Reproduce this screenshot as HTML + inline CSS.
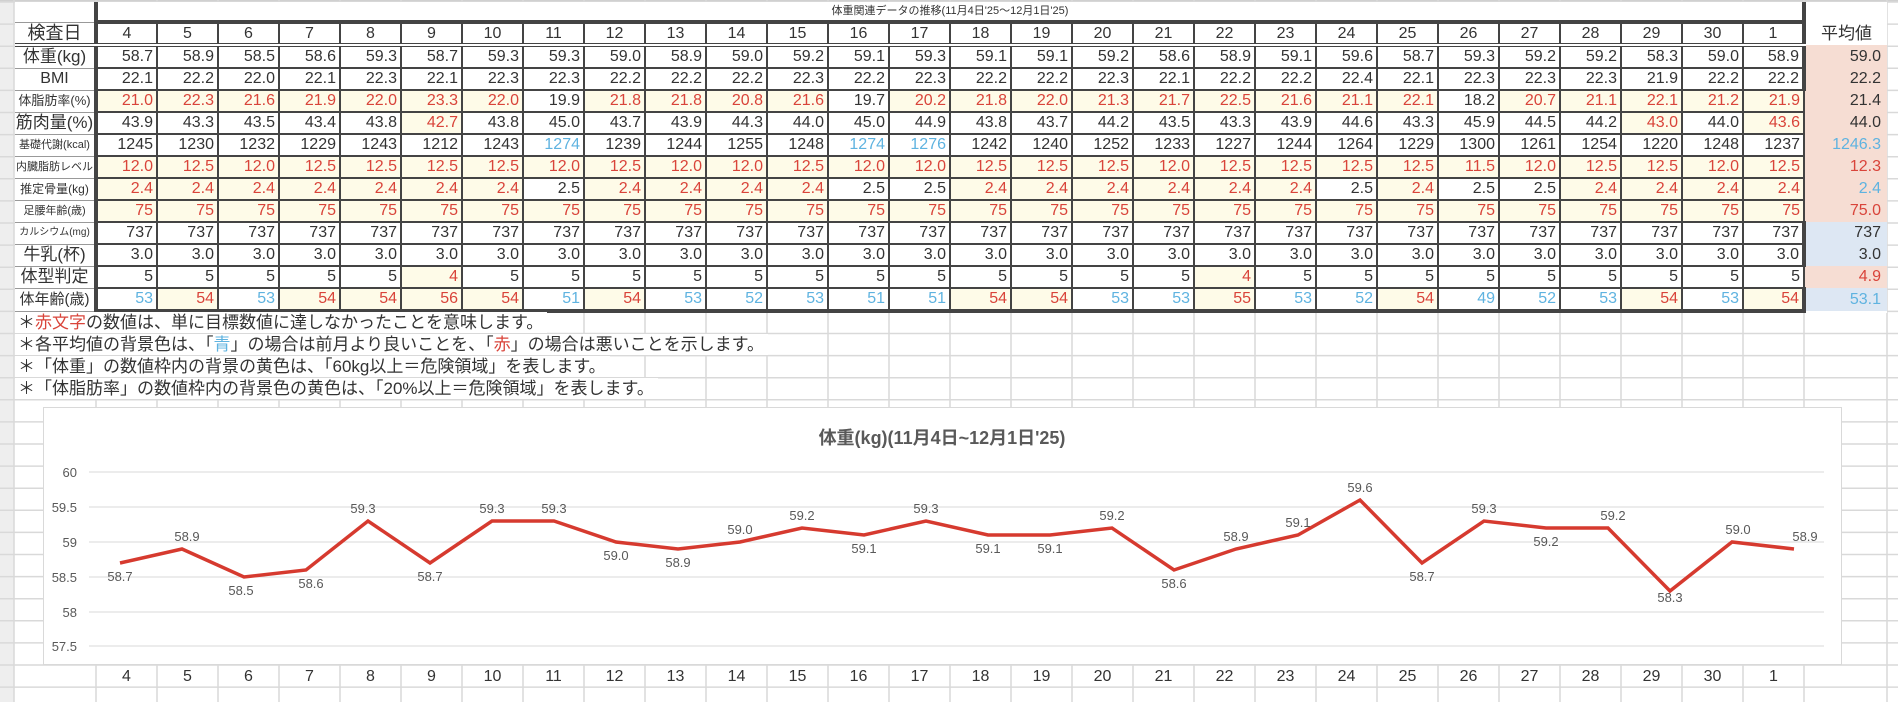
<!DOCTYPE html>
<html><head><meta charset="utf-8"><style>
body{margin:0;width:1898px;height:702px;overflow:hidden;background:#fff;position:relative;font-family:"Liberation Sans","Noto Sans CJK JP",sans-serif;color:#333}
#bg{position:absolute;left:0;top:0}
table{position:absolute;left:15px;top:2px;border-collapse:collapse;table-layout:fixed;background:#fff}
td{padding:0 3px 0 0;height:20px;font-size:16px;text-align:right;border:2px solid #444;white-space:nowrap;overflow:hidden;line-height:18px}
td.l{text-align:center;border:1px solid #999;border-left:none;padding:0;font-size:17px}
tr.h td{text-align:center;padding:0;border-bottom:4px double #444;height:19px;font-size:16px}
tr.t td{height:18px;border:none}
td.r{color:#d9443a;background:#fefbe8}
td.b{color:#5fb3e0}
td.a{border:none;border-left:2px solid #444;background:#f6ddd3;padding-right:6px}
td.ab{border:none;border-left:2px solid #444;background:#dde7f3;padding-right:6px}
.rc{color:#d9443a}.bc{color:#5fb3e0}
.fn{position:absolute;left:15px;font-size:17px;background:#fff;padding:0 4px 0 3px;height:21px;line-height:21px;color:#333}
#chart{position:absolute;left:0;top:0}
.xl{position:absolute;top:667px;width:61px;text-align:center;font-size:16px;line-height:20px;color:#333}
</style></head><body>
<svg id="bg" width="1898" height="702">
<rect x="0" y="0" width="14" height="702" fill="#eeeeee"/>
<rect x="0" y="0" width="1898" height="2" fill="#d0d0d0"/>
<g stroke="#d9d9d9" stroke-width="1.5">
<line x1="0" x2="1898" y1="2" y2="2"/><line x1="0" x2="1898" y1="24.1" y2="24.1"/><line x1="0" x2="1898" y1="46.2" y2="46.2"/><line x1="0" x2="1898" y1="68.3" y2="68.3"/><line x1="0" x2="1898" y1="90.4" y2="90.4"/><line x1="0" x2="1898" y1="112.5" y2="112.5"/><line x1="0" x2="1898" y1="134.6" y2="134.6"/><line x1="0" x2="1898" y1="156.7" y2="156.7"/><line x1="0" x2="1898" y1="178.8" y2="178.8"/><line x1="0" x2="1898" y1="200.9" y2="200.9"/><line x1="0" x2="1898" y1="223" y2="223"/><line x1="0" x2="1898" y1="245.1" y2="245.1"/><line x1="0" x2="1898" y1="267.2" y2="267.2"/><line x1="0" x2="1898" y1="289.3" y2="289.3"/><line x1="0" x2="1898" y1="311.4" y2="311.4"/><line x1="0" x2="1898" y1="333.5" y2="333.5"/><line x1="0" x2="1898" y1="355.6" y2="355.6"/><line x1="0" x2="1898" y1="377.7" y2="377.7"/><line x1="0" x2="1898" y1="399.8" y2="399.8"/><line x1="0" x2="1898" y1="421.9" y2="421.9"/><line x1="0" x2="1898" y1="444" y2="444"/><line x1="0" x2="1898" y1="466.1" y2="466.1"/><line x1="0" x2="1898" y1="488.2" y2="488.2"/><line x1="0" x2="1898" y1="510.3" y2="510.3"/><line x1="0" x2="1898" y1="532.4" y2="532.4"/><line x1="0" x2="1898" y1="554.5" y2="554.5"/><line x1="0" x2="1898" y1="576.6" y2="576.6"/><line x1="0" x2="1898" y1="598.7" y2="598.7"/><line x1="0" x2="1898" y1="620.8" y2="620.8"/><line x1="0" x2="1898" y1="642.9" y2="642.9"/><line x1="0" x2="1898" y1="665" y2="665"/><line x1="0" x2="1898" y1="687.1" y2="687.1"/>
<line x1="14" x2="14" y1="0" y2="702"/><line x1="96" x2="96" y1="0" y2="702"/><line x1="157" x2="157" y1="0" y2="702"/><line x1="218" x2="218" y1="0" y2="702"/><line x1="279" x2="279" y1="0" y2="702"/><line x1="340" x2="340" y1="0" y2="702"/><line x1="401" x2="401" y1="0" y2="702"/><line x1="462" x2="462" y1="0" y2="702"/><line x1="523" x2="523" y1="0" y2="702"/><line x1="584" x2="584" y1="0" y2="702"/><line x1="645" x2="645" y1="0" y2="702"/><line x1="706" x2="706" y1="0" y2="702"/><line x1="767" x2="767" y1="0" y2="702"/><line x1="828" x2="828" y1="0" y2="702"/><line x1="889" x2="889" y1="0" y2="702"/><line x1="950" x2="950" y1="0" y2="702"/><line x1="1011" x2="1011" y1="0" y2="702"/><line x1="1072" x2="1072" y1="0" y2="702"/><line x1="1133" x2="1133" y1="0" y2="702"/><line x1="1194" x2="1194" y1="0" y2="702"/><line x1="1255" x2="1255" y1="0" y2="702"/><line x1="1316" x2="1316" y1="0" y2="702"/><line x1="1377" x2="1377" y1="0" y2="702"/><line x1="1438" x2="1438" y1="0" y2="702"/><line x1="1499" x2="1499" y1="0" y2="702"/><line x1="1560" x2="1560" y1="0" y2="702"/><line x1="1621" x2="1621" y1="0" y2="702"/><line x1="1682" x2="1682" y1="0" y2="702"/><line x1="1743" x2="1743" y1="0" y2="702"/><line x1="1804" x2="1804" y1="0" y2="702"/><line x1="1887" x2="1887" y1="0" y2="702"/>
</g></svg>

<table>
<colgroup><col style="width:81px"><col span="28" style="width:61px"><col style="width:83px"></colgroup>
<tr class="t"><td class="l" style="border:none;background:#fff"></td><td colspan="28" style="text-align:center;font-size:11px;border-left:4px solid #444;border-top:none;border-right:4px solid #444;border-bottom:4px solid #444;padding:0">体重関連データの推移(11月4日'25～12月1日'25)</td><td style="border:none;background:transparent"></td></tr>
<tr class="h"><td class="l" style="font-size:18px;border-bottom:4px double #444">検査日</td><td style="border-left:4px solid #444">4</td><td>5</td><td>6</td><td>7</td><td>8</td><td>9</td><td>10</td><td>11</td><td>12</td><td>13</td><td>14</td><td>15</td><td>16</td><td>17</td><td>18</td><td>19</td><td>20</td><td>21</td><td>22</td><td>23</td><td>24</td><td>25</td><td>26</td><td>27</td><td>28</td><td>29</td><td>30</td><td style="border-right:4px solid #444">1</td><td style="border:none;border-left:4px solid #444;font-size:17px;background:#fff">平均値</td></tr>
<tr><td class="l" style="font-size:17px">体重(kg)</td><td style="border-left:4px solid #444">58.7</td><td>58.9</td><td>58.5</td><td>58.6</td><td>59.3</td><td>58.7</td><td>59.3</td><td>59.3</td><td>59.0</td><td>58.9</td><td>59.0</td><td>59.2</td><td>59.1</td><td>59.3</td><td>59.1</td><td>59.1</td><td>59.2</td><td>58.6</td><td>58.9</td><td>59.1</td><td>59.6</td><td>58.7</td><td>59.3</td><td>59.2</td><td>59.2</td><td>58.3</td><td>59.0</td><td style="border-right:4px solid #444">58.9</td><td class="a">59.0</td></tr>
<tr><td class="l" style="font-size:16px">BMI</td><td style="border-left:4px solid #444">22.1</td><td>22.2</td><td>22.0</td><td>22.1</td><td>22.3</td><td>22.1</td><td>22.3</td><td>22.3</td><td>22.2</td><td>22.2</td><td>22.2</td><td>22.3</td><td>22.2</td><td>22.3</td><td>22.2</td><td>22.2</td><td>22.3</td><td>22.1</td><td>22.2</td><td>22.2</td><td>22.4</td><td>22.1</td><td>22.3</td><td>22.3</td><td>22.3</td><td>21.9</td><td>22.2</td><td style="border-right:4px solid #444">22.2</td><td class="a">22.2</td></tr>
<tr><td class="l" style="font-size:13px">体脂肪率(%)</td><td class="r" style="border-left:4px solid #444">21.0</td><td class="r">22.3</td><td class="r">21.6</td><td class="r">21.9</td><td class="r">22.0</td><td class="r">23.3</td><td class="r">22.0</td><td>19.9</td><td class="r">21.8</td><td class="r">21.8</td><td class="r">20.8</td><td class="r">21.6</td><td>19.7</td><td class="r">20.2</td><td class="r">21.8</td><td class="r">22.0</td><td class="r">21.3</td><td class="r">21.7</td><td class="r">22.5</td><td class="r">21.6</td><td class="r">21.1</td><td class="r">22.1</td><td>18.2</td><td class="r">20.7</td><td class="r">21.1</td><td class="r">22.1</td><td class="r">21.2</td><td class="r">21.9</td><td class="a">21.4</td></tr>
<tr><td class="l" style="font-size:17px">筋肉量(%)</td><td style="border-left:4px solid #444">43.9</td><td>43.3</td><td>43.5</td><td>43.4</td><td>43.8</td><td class="r">42.7</td><td>43.8</td><td>45.0</td><td>43.7</td><td>43.9</td><td>44.3</td><td>44.0</td><td>45.0</td><td>44.9</td><td>43.8</td><td>43.7</td><td>44.2</td><td>43.5</td><td>43.3</td><td>43.9</td><td>44.6</td><td>43.3</td><td>45.9</td><td>44.5</td><td>44.2</td><td class="r">43.0</td><td>44.0</td><td class="r">43.6</td><td class="a">44.0</td></tr>
<tr><td class="l" style="font-size:11px">基礎代謝(kcal)</td><td style="border-left:4px solid #444">1245</td><td>1230</td><td>1232</td><td>1229</td><td>1243</td><td>1212</td><td>1243</td><td class="b">1274</td><td>1239</td><td>1244</td><td>1255</td><td>1248</td><td class="b">1274</td><td class="b">1276</td><td>1242</td><td>1240</td><td>1252</td><td>1233</td><td>1227</td><td>1244</td><td>1264</td><td>1229</td><td>1300</td><td>1261</td><td>1254</td><td>1220</td><td>1248</td><td>1237</td><td class="a" style="color:#5fb3e0">1246.3</td></tr>
<tr><td class="l" style="font-size:11px">内臓脂肪レベル</td><td class="r" style="border-left:4px solid #444">12.0</td><td class="r">12.5</td><td class="r">12.0</td><td class="r">12.5</td><td class="r">12.5</td><td class="r">12.5</td><td class="r">12.5</td><td class="r">12.0</td><td class="r">12.5</td><td class="r">12.0</td><td class="r">12.0</td><td class="r">12.5</td><td class="r">12.0</td><td class="r">12.0</td><td class="r">12.5</td><td class="r">12.5</td><td class="r">12.5</td><td class="r">12.0</td><td class="r">12.5</td><td class="r">12.5</td><td class="r">12.5</td><td class="r">12.5</td><td class="r">11.5</td><td class="r">12.0</td><td class="r">12.5</td><td class="r">12.5</td><td class="r">12.0</td><td class="r">12.5</td><td class="a" style="color:#d9443a">12.3</td></tr>
<tr><td class="l" style="font-size:12px">推定骨量(kg)</td><td class="r" style="border-left:4px solid #444">2.4</td><td class="r">2.4</td><td class="r">2.4</td><td class="r">2.4</td><td class="r">2.4</td><td class="r">2.4</td><td class="r">2.4</td><td>2.5</td><td class="r">2.4</td><td class="r">2.4</td><td class="r">2.4</td><td class="r">2.4</td><td>2.5</td><td>2.5</td><td class="r">2.4</td><td class="r">2.4</td><td class="r">2.4</td><td class="r">2.4</td><td class="r">2.4</td><td class="r">2.4</td><td>2.5</td><td class="r">2.4</td><td>2.5</td><td>2.5</td><td class="r">2.4</td><td class="r">2.4</td><td class="r">2.4</td><td class="r">2.4</td><td class="a" style="color:#5fb3e0">2.4</td></tr>
<tr><td class="l" style="font-size:11px">足腰年齢(歳)</td><td class="r" style="border-left:4px solid #444">75</td><td class="r">75</td><td class="r">75</td><td class="r">75</td><td class="r">75</td><td class="r">75</td><td class="r">75</td><td class="r">75</td><td class="r">75</td><td class="r">75</td><td class="r">75</td><td class="r">75</td><td class="r">75</td><td class="r">75</td><td class="r">75</td><td class="r">75</td><td class="r">75</td><td class="r">75</td><td class="r">75</td><td class="r">75</td><td class="r">75</td><td class="r">75</td><td class="r">75</td><td class="r">75</td><td class="r">75</td><td class="r">75</td><td class="r">75</td><td class="r">75</td><td class="a" style="color:#d9443a">75.0</td></tr>
<tr><td class="l" style="font-size:10px">カルシウム(mg)</td><td style="border-left:4px solid #444">737</td><td>737</td><td>737</td><td>737</td><td>737</td><td>737</td><td>737</td><td>737</td><td>737</td><td>737</td><td>737</td><td>737</td><td>737</td><td>737</td><td>737</td><td>737</td><td>737</td><td>737</td><td>737</td><td>737</td><td>737</td><td>737</td><td>737</td><td>737</td><td>737</td><td>737</td><td>737</td><td style="border-right:4px solid #444">737</td><td class="ab">737</td></tr>
<tr><td class="l" style="font-size:17px">牛乳(杯)</td><td style="border-left:4px solid #444">3.0</td><td>3.0</td><td>3.0</td><td>3.0</td><td>3.0</td><td>3.0</td><td>3.0</td><td>3.0</td><td>3.0</td><td>3.0</td><td>3.0</td><td>3.0</td><td>3.0</td><td>3.0</td><td>3.0</td><td>3.0</td><td>3.0</td><td>3.0</td><td>3.0</td><td>3.0</td><td>3.0</td><td>3.0</td><td>3.0</td><td>3.0</td><td>3.0</td><td>3.0</td><td>3.0</td><td style="border-right:4px solid #444">3.0</td><td class="ab">3.0</td></tr>
<tr><td class="l" style="font-size:17px">体型判定</td><td style="border-left:4px solid #444">5</td><td>5</td><td>5</td><td>5</td><td>5</td><td class="r">4</td><td>5</td><td>5</td><td>5</td><td>5</td><td>5</td><td>5</td><td>5</td><td>5</td><td>5</td><td>5</td><td>5</td><td>5</td><td class="r">4</td><td>5</td><td>5</td><td>5</td><td>5</td><td>5</td><td>5</td><td>5</td><td>5</td><td>5</td><td class="a" style="color:#d9443a">4.9</td></tr>
<tr><td class="l" style="font-size:15px">体年齢(歳)</td><td class="b" style="border-left:4px solid #444;border-bottom:4px solid #444">53</td><td class="r" style="border-bottom:4px solid #444">54</td><td class="b" style="border-bottom:4px solid #444">53</td><td class="r" style="border-bottom:4px solid #444">54</td><td class="r" style="border-bottom:4px solid #444">54</td><td class="r" style="border-bottom:4px solid #444">56</td><td class="r" style="border-bottom:4px solid #444">54</td><td class="b" style="border-bottom:4px solid #444">51</td><td class="r" style="border-bottom:4px solid #444">54</td><td class="b" style="border-bottom:4px solid #444">53</td><td class="b" style="border-bottom:4px solid #444">52</td><td class="b" style="border-bottom:4px solid #444">53</td><td class="b" style="border-bottom:4px solid #444">51</td><td class="b" style="border-bottom:4px solid #444">51</td><td class="r" style="border-bottom:4px solid #444">54</td><td class="r" style="border-bottom:4px solid #444">54</td><td class="b" style="border-bottom:4px solid #444">53</td><td class="b" style="border-bottom:4px solid #444">53</td><td class="r" style="border-bottom:4px solid #444">55</td><td class="b" style="border-bottom:4px solid #444">53</td><td class="b" style="border-bottom:4px solid #444">52</td><td class="r" style="border-bottom:4px solid #444">54</td><td class="b" style="border-bottom:4px solid #444">49</td><td class="b" style="border-bottom:4px solid #444">52</td><td class="b" style="border-bottom:4px solid #444">53</td><td class="r" style="border-bottom:4px solid #444">54</td><td class="b" style="border-bottom:4px solid #444">53</td><td class="r" style="border-bottom:4px solid #444;border-right:4px solid #444">54</td><td class="ab" style="color:#5fb3e0">53.1</td></tr>
</table>

<div class="fn" style="top:312px">＊<span class="rc">赤文字</span>の数値は、単に目標数値に達しなかったことを意味します。</div>
<div class="fn" style="top:334px">＊各平均値の背景色は、「<span class="bc">青</span>」の場合は前月より良いことを、「<span class="rc">赤</span>」の場合は悪いことを示します。</div>
<div class="fn" style="top:356px">＊「体重」の数値枠内の背景の黄色は、「60kg以上＝危険領域」を表します。</div>
<div class="fn" style="top:378px">＊「体脂肪率」の数値枠内の背景色の黄色は、「20%以上＝危険領域」を表します。</div>

<svg id="chart" width="1898" height="702" style="font-family:'Liberation Sans','Noto Sans CJK JP',sans-serif">
<rect x="43.5" y="407.5" width="1798" height="257" fill="#fff" stroke="#d9d9d9"/>
<text x="942" y="444" text-anchor="middle" font-size="18" font-weight="bold" fill="#595959">体重(kg)(11月4日~12月1日'25)</text>
<g stroke="#d9d9d9" stroke-width="1">
<line x1="89" x2="1824" y1="472" y2="472"/><line x1="89" x2="1824" y1="507" y2="507"/><line x1="89" x2="1824" y1="542" y2="542"/><line x1="89" x2="1824" y1="577" y2="577"/><line x1="89" x2="1824" y1="612" y2="612"/><line x1="89" x2="1824" y1="646" y2="646"/>
</g>
<g font-size="13" fill="#595959" text-anchor="end">
<text x="77" y="477">60</text><text x="77" y="512">59.5</text><text x="77" y="547">59</text><text x="77" y="582">58.5</text><text x="77" y="617">58</text><text x="77" y="651">57.5</text>
</g>
<polyline fill="none" stroke="#d63a2f" stroke-width="3.5" stroke-linejoin="miter" points="120,563 182,549 244,577 306,570 368,521 430,563 492,521 554,521 616,542 678,549 740,542 802,528 864,535 926,521 988,535 1050,535 1112,528 1174,570 1236,549 1298,535 1360,500 1422,563 1484,521 1546,528 1608,528 1670,591 1732,542 1794,549"/>
<g font-size="13" fill="#595959" text-anchor="middle">
<text x="120" y="581">58.7</text><text x="187" y="541">58.9</text><text x="241" y="595">58.5</text><text x="311" y="588">58.6</text><text x="363" y="513">59.3</text><text x="430" y="581">58.7</text><text x="492" y="513">59.3</text><text x="554" y="513">59.3</text><text x="616" y="560">59.0</text><text x="678" y="567">58.9</text><text x="740" y="534">59.0</text><text x="802" y="520">59.2</text><text x="864" y="553">59.1</text><text x="926" y="513">59.3</text><text x="988" y="553">59.1</text><text x="1050" y="553">59.1</text><text x="1112" y="520">59.2</text><text x="1174" y="588">58.6</text><text x="1236" y="541">58.9</text><text x="1298" y="527">59.1</text><text x="1360" y="492">59.6</text><text x="1422" y="581">58.7</text><text x="1484" y="513">59.3</text><text x="1546" y="546">59.2</text><text x="1613" y="520">59.2</text><text x="1670" y="602">58.3</text><text x="1738" y="534">59.0</text><text x="1805" y="541">58.9</text>
</g>
</svg>

<div class="xl" style="left:96px">4</div><div class="xl" style="left:157px">5</div><div class="xl" style="left:218px">6</div><div class="xl" style="left:279px">7</div><div class="xl" style="left:340px">8</div><div class="xl" style="left:401px">9</div><div class="xl" style="left:462px">10</div><div class="xl" style="left:523px">11</div><div class="xl" style="left:584px">12</div><div class="xl" style="left:645px">13</div><div class="xl" style="left:706px">14</div><div class="xl" style="left:767px">15</div><div class="xl" style="left:828px">16</div><div class="xl" style="left:889px">17</div><div class="xl" style="left:950px">18</div><div class="xl" style="left:1011px">19</div><div class="xl" style="left:1072px">20</div><div class="xl" style="left:1133px">21</div><div class="xl" style="left:1194px">22</div><div class="xl" style="left:1255px">23</div><div class="xl" style="left:1316px">24</div><div class="xl" style="left:1377px">25</div><div class="xl" style="left:1438px">26</div><div class="xl" style="left:1499px">27</div><div class="xl" style="left:1560px">28</div><div class="xl" style="left:1621px">29</div><div class="xl" style="left:1682px">30</div><div class="xl" style="left:1743px">1</div>
</body></html>
